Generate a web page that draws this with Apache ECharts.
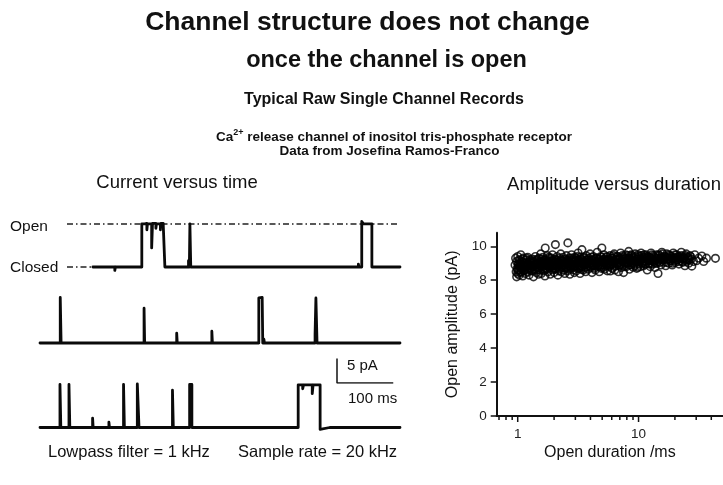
<!DOCTYPE html>
<html><head><meta charset="utf-8">
<script src="https://cdn.jsdelivr.net/npm/echarts@6/dist/echarts.min.js"></script>
<style>html,body{margin:0;padding:0;background:#fff}#c{width:723px;height:485px}</style>
</head><body><div id="c"></div>
<script>
const FONT = '"Liberation Sans", Arial, Helvetica, sans-serif';

// ---- Single-channel records: change points [time (ms), current (pA)] ----
const trace1 = [
[94,0],[120,-0.4],[120.8,0],[133,-0.7],[134,0],[150,0.4],[150.8,0],[168,-0.4],[169,0],
[181,8.8],[186,8.4],[187,8.9],[190,7.6],[191,8.8],[198.5,3.9],[200,8.9],[206,7.9],[207,8.8],[214,7.6],[215,8.9],[219,8.5],[220,8.8],
[222,0],[235,-0.4],[236,0],[248,0.4],[249,0],[264,1.3],[265.5,0],[266.5,8.8],[268,0],
[290,0.4],[291,0],[312,-0.4],[313,0],[340,0.4],[341,0],[365,-0.4],[366,0],[392,0.4],[393,0],[418,-0.4],[419,0],[445,0.4],[446,0],[470,-0.4],[471,0],[497,0.4],[498,0],[523,-0.4],[524,0],[548,0.4],[549,0],[566,0.6],[567,0],
[572,9.3],[575,8.8],[590,0],[605,-0.4],[606,0],[625,0.4],[626,0],[640,0]
];
const trace2 = [
[0,0],[15,-0.4],[16,0],[28,0.4],[29,0],
[36,9.3],[37.5,0],[55,-0.4],[56,0],[75,0.4],[76,0],[98,-0.4],[99,0],[120,0.4],[121,0],[142,-0.4],[143,0],[165,0.4],[166,0],
[185,7.1],[186,0],[205,-0.4],[206,0],[225,0.4],[226,0],[243,2.0],[244,0],[262,-0.4],[263,0],[285,0.4],[286,0],
[305.5,2.4],[306.5,0],[325,-0.4],[326,0],[348,0.4],[349,0],[370,-0.4],[371,0],
[389,9.2],[390.5,9.3],[395,9.2],[396,0],[398,0.8],[399,0],[415,-0.4],[416,0],[440,0.4],[441,0],[465,-0.4],[466,0],
[489,1.8],[490.5,9.2],[492.5,0],[510,-0.4],[511,0],[535,0.4],[536,0],[560,-0.4],[561,0],[585,0.4],[586,0],[610,-0.4],[611,0],[640,0]
];
const trace3 = [
[0,0],[18,-0.4],[19,0],
[35.5,8.8],[37,0],[44,-0.4],[45,0],[51.5,8.8],[53,0],[70,0.4],[71,0],
[93.5,1.9],[94.5,0],[108,-0.4],[109,0],[122.5,1.1],[123.5,0],[135,-0.4],[136,0],
[148.5,8.8],[150,0],[160,0.4],[161,0],[173,8.9],[176,0],[190,-0.4],[191,0],[210,0.4],[211,0],
[235.5,7.6],[237,0],[250,-0.4],[251,0],[266,8.8],[270,0],[285,-0.4],[286,0],[305,0.4],[306,0],[330,-0.4],[331,0],[355,0.4],[356,0],[380,-0.4],[381,0],[405,0.4],[406,0],[430,-0.4],[431,0],[450,0.4],[451,0],
[459,8.7],[467,7.9],[468.5,8.7],[484,6.9],[485.5,8.7],[494,8.3],[495,8.7],[498,-0.4],[499.5,0],[515,0.4],[516,0],[540,-0.4],[541,0],[565,0.4],[566,0],[590,-0.4],[591,0],[615,0.4],[616,0],[640,0]
];
const openLevel = 8.8;       // pA
const closedLevel = 0;       // pA
const refLineStart = 48;     // ms
const row1Start = 94;        // ms
const traceEnd = 640;        // ms
const scaleBarTime = 100;    // ms
const scaleBarAmp = 5;       // pA
const scaleBarAt = 528;      // ms

// ---- Amplitude vs duration: [open duration (ms), open amplitude (pA)] ----
const eventsA = [[0.95,8.9],[0.96,9.3],[0.97,8.5],[0.98,8.2],[0.98,9.1],[0.99,8.7],[1.0,9.4],[1.0,8.4],[1.01,8.9],[1.02,9.2],[1.02,8.6],[1.03,8.3],[1.04,9.0],[1.05,8.8],[1.06,9.5],[1.07,8.5],[1.08,9.1],[1.09,8.7],[1.1,8.25],[1.11,9.3],[1.12,8.9],[1.13,8.6],[1.15,9.0],[1.16,8.4],[1.17,9.2],[1.19,8.8],[1.2,8.5],[1.21,9.35],[1.23,8.95],[1.24,8.3],[1.26,9.1],[1.27,8.7],[1.29,9.0],[1.3,8.55],[1.32,9.25],[1.33,8.8],[1.35,8.2],[1.36,9.05],[1.38,8.65],[1.4,9.4],[1.41,8.9],[1.43,8.45],[1.44,9.15],[1.46,8.75],[1.48,9.0],[1.49,8.35]];
const eventsB = [[1.5,9.3],[1.52,8.6],[1.54,8.95],[1.55,9.55],[1.57,8.4],[1.59,9.1],[1.6,8.8],[1.62,9.35],[1.64,8.55],[1.66,9.0],[1.68,8.25],[1.69,9.9],[1.7,8.7],[1.72,9.2],[1.74,8.9],[1.76,9.45],[1.78,8.5],[1.8,9.05],[1.82,8.75],[1.84,9.3],[1.86,8.35],[1.88,8.95],[1.9,9.15],[1.92,8.6],[1.94,9.5],[1.96,8.85],[1.98,9.0],[2.0,8.45],[2.02,9.25],[2.05,10.1],[2.06,8.7],[2.08,9.1],[2.1,8.9],[2.12,9.4],[2.15,8.3],[2.17,9.0],[2.2,8.65],[2.22,9.3],[2.25,8.8],[2.27,9.55],[2.3,8.5],[2.32,9.15],[2.35,8.95],[2.38,9.35],[2.4,8.6],[2.43,9.05],[2.45,8.4],[2.48,9.2],[2.5,8.75],[2.53,9.45],[2.55,9.0],[2.58,8.55],[2.6,10.2],[2.62,9.1],[2.65,8.85],[2.68,9.3],[2.7,8.35],[2.73,9.0],[2.76,8.7],[2.79,9.5],[2.82,8.9],[2.85,9.2],[2.88,8.6],[2.91,9.05],[2.94,8.45],[2.97,9.35]];
const eventsC = [[3.0,8.8],[3.03,9.15],[3.06,8.55],[3.1,9.4],[3.13,8.95],[3.16,9.6],[3.2,8.7],[3.24,9.1],[3.28,8.4],[3.32,9.25],[3.36,8.85],[3.4,9.8],[3.44,9.0],[3.48,8.6],[3.52,9.35],[3.56,8.9],[3.6,9.15],[3.65,8.5],[3.7,9.45],[3.74,8.8],[3.78,9.05],[3.83,8.65],[3.88,9.3],[3.92,8.95],[3.97,9.55],[4.02,8.75],[4.07,9.2],[4.12,8.45],[4.17,9.0],[4.22,9.4],[4.28,8.85],[4.33,9.1],[4.38,8.6],[4.44,9.3],[4.5,8.95],[4.55,9.65],[4.61,8.8],[4.67,9.15],[4.73,8.5],[4.8,9.05],[4.86,9.4],[4.92,8.7],[4.97,9.9],[5.04,9.2],[5.1,8.9],[5.17,9.5],[5.24,8.65],[5.3,9.1],[5.37,8.85],[5.44,9.35],[5.51,8.55],[5.58,9.0],[5.66,9.25],[5.73,8.8],[5.81,9.45],[5.84,8.54],[5.89,8.95],[5.96,9.15]];
const eventsD = [[6.04,8.7],[6.12,9.3],[6.2,8.95],[6.29,9.55],[6.37,8.6],[6.46,9.1],[6.55,8.85],[6.64,9.4],[6.73,9.0],[6.82,8.5],[6.92,9.25],[7.01,8.9],[7.11,9.6],[7.21,8.75],[7.31,9.15],[7.41,9.35],[7.52,8.45],[7.62,9.05],[7.73,8.95],[7.84,9.5],[7.95,8.8],[8.06,9.2],[8.17,9.0],[8.29,9.7],[8.4,8.65],[8.52,9.3],[8.64,8.9],[8.76,9.45],[8.88,9.1],[9.01,8.76],[9.13,9.35],[9.26,8.95],[9.39,9.55],[9.52,9.05],[9.66,8.7],[9.79,9.25],[9.9,8.76],[10.1,9.4],[10.2,9.1],[10.4,8.8],[10.5,9.6],[10.7,9.0],[10.8,9.3],[11.0,8.85],[11.1,9.5],[11.3,9.15],[11.4,8.95],[11.6,9.4],[11.8,8.6],[11.9,9.2]];
const eventsE = [[12.1,9.0],[12.3,9.35],[12.5,8.8],[12.7,9.6],[12.9,9.15],[13.1,8.95],[13.3,9.45],[13.5,9.1],[13.7,8.75],[13.9,9.3],[14.2,9.0],[14.5,8.4],[14.7,9.5],[15.0,9.2],[15.3,8.9],[15.6,9.65],[15.9,9.3],[16.2,9.05],[16.5,9.4],[16.8,8.85],[17.1,9.55],[17.5,9.2],[17.8,9.0],[18.2,9.45],[18.6,9.15],[19.0,8.9],[19.4,9.6],[19.8,9.3],[20.2,9.05],[20.7,9.5],[21.1,9.2],[21.6,8.95],[22.1,9.4],[22.6,9.65],[23.1,9.1],[23.6,9.35],[24.2,8.85],[24.8,9.55],[25.4,9.2],[26.0,9.0],[26.6,9.45],[27.3,9.25]];
const eventsF = [[27.6,8.83],[28.5,9.1],[29.2,9.5],[30.2,9.15],[31.4,9.3],[33.4,9.43],[34.6,9.1],[36.5,9.3],[43.3,9.29]];
const eventsCore = [[1.01,8.95],[1.07,8.8],[1.14,9.05],[1.22,8.7],[1.28,8.9],[1.37,9.1],[1.45,8.6],[1.53,8.85],[1.61,9.05],[1.7,8.95],[1.79,8.8],[1.87,9.1],[1.97,8.7],[2.07,8.95],[2.18,9.05],[2.28,8.85],[2.39,8.75],[2.51,9.1],[2.63,8.95],[2.77,9.15],[2.9,8.8],[3.05,9.0],[3.19,9.2],[3.34,8.75],[3.5,9.05],[3.67,8.95],[3.85,9.2],[4.04,9.0],[4.25,8.9],[4.47,9.1],[4.7,9.25],[4.94,8.9],[5.2,9.0],[5.47,9.2],[5.75,9.05],[6.05,9.3],[6.36,9.15],[6.69,9.2],[7.04,9.05],[7.4,9.25],[7.79,9.1],[8.2,9.3],[8.62,9.15],[9.07,9.2],[9.55,9.1],[10.05,9.25],[10.6,9.2],[11.15,9.1],[11.7,9.3],[12.35,9.15],[13.0,9.25],[13.7,9.2],[14.4,9.1],[15.2,9.3],[16.0,9.2],[16.9,9.35],[17.8,9.25],[18.8,9.3],[19.8,9.15],[20.9,9.35],[22.0,9.25],[23.2,9.3],[24.5,9.2],[26.0,9.3]];
const eventsDense = [[1.0,8.6],[1.02,8.8],[1.04,9.15],[1.05,8.45],[1.08,8.95],[1.1,9.25],[1.12,8.55],[1.14,8.75],[1.17,8.95],[1.18,9.3],[1.2,8.85],[1.23,8.6],[1.25,9.05],[1.27,9.2],[1.3,8.8],[1.31,9.1],[1.34,8.55],[1.36,8.9],[1.39,9.2],[1.42,8.75],[1.44,8.95],[1.47,9.25],[1.5,8.7],[1.53,9.1],[1.56,8.8],[1.58,9.25],[1.61,8.65],[1.63,8.95],[1.66,9.2],[1.69,8.6],[1.72,8.85],[1.75,9.1],[1.78,8.95],[1.81,9.35],[1.84,8.7],[1.87,8.9],[1.9,9.3],[1.93,8.8],[1.96,9.15],[1.99,8.9],[2.03,8.65],[2.07,9.2],[2.11,8.8],[2.14,9.05],[2.18,8.55],[2.22,8.95],[2.26,9.2],[2.31,8.75],[2.35,9.1],[2.39,8.9],[2.44,9.25],[2.49,8.7],[2.54,8.95],[2.59,9.2],[2.64,8.65],[2.69,9.05],[2.74,8.85],[2.8,9.3],[2.86,8.75],[2.92,9.1],[2.98,8.95],[3.04,9.3],[3.1,8.7],[3.17,9.05],[3.23,8.85],[3.3,9.35],[3.37,8.65],[3.44,9.15],[3.51,8.9],[3.58,9.3],[3.66,8.75],[3.73,9.2],[3.81,8.95],[3.89,9.1],[3.97,8.8],[4.06,9.35],[4.14,8.9],[4.23,9.2],[4.32,8.7],[4.41,9.0],[4.51,9.3],[4.6,8.85],[4.7,9.1],[4.8,8.8],[4.9,9.35],[5.0,9.05],[5.11,8.75],[5.22,9.25],[5.33,8.95],[5.45,9.4],[5.56,8.85],[5.68,9.15],[5.8,8.9],[5.93,9.3],[6.06,8.95],[6.19,9.45],[6.32,8.8],[6.46,9.25],[6.6,9.0],[6.74,9.4],[6.89,8.85],[7.03,9.3],[7.19,8.95],[7.34,9.45],[7.5,9.1],[7.66,8.8],[7.83,9.3],[8.0,9.05],[8.17,9.45],[8.35,8.9],[8.53,9.2],[8.71,9.5],[8.9,9.0],[9.1,9.3],[9.29,8.85],[9.49,9.4],[9.7,9.1],[9.91,9.5],[10.1,8.95],[10.35,9.25],[10.6,9.45],[10.8,9.05],[11.05,9.35],[11.3,8.95],[11.55,9.5],[11.8,9.2],[12.05,9.4],[12.3,8.95],[12.6,9.3],[12.9,9.5],[13.2,9.1],[13.5,9.35],[13.8,9.0],[14.1,9.5],[14.4,9.25],[14.8,9.45],[15.1,9.05],[15.5,9.35],[15.8,9.55],[16.2,9.2],[16.6,9.4],[17.0,9.05],[17.4,9.3],[17.8,9.5],[18.3,9.15],[18.7,9.4],[19.2,9.0],[19.6,9.3],[20.1,9.5],[20.6,9.2],[21.1,9.4],[21.6,9.1],[22.1,9.3],[22.6,9.45],[23.2,9.05],[23.8,9.3],[24.4,9.45],[25.0,9.1],[25.6,9.35],[26.3,9.2],[27.0,9.4]];

const xTickValues = [0.7,0.8,0.9,1,2,3,4,5,6,7,8,9,10,20,30,40];
const xMajorTicks = [1,10];
const yTickValues = [0,2,4,6,8,10];

// ---- build ----
function steps(cp){
  const pts=[];
  for(let i=0;i<cp.length;i++){
    if(i>0) pts.push([cp[i][0], cp[i-1][1]]);
    pts.push([cp[i][0], cp[i][1]]);
  }
  return pts;
}
const allEvents = [].concat(eventsA,eventsB,eventsC,eventsD,eventsE,eventsF,eventsCore,eventsDense);

const chart = echarts.init(document.getElementById('c'), null, {renderer:'canvas'});
const traceGrid = (top)=>({left:40, top:top, width:360, height:56.35, outerBoundsMode:'none', containLabel:false});
const hiddenX = (gi)=>({type:'value', gridIndex:gi, min:0, max:traceEnd, show:false});
const hiddenY = (gi,min,max)=>({type:'value', gridIndex:gi, min:min, max:max, show:false});
const traceLine = (data, gi)=>({type:'line', xAxisIndex:gi, yAxisIndex:gi, data:steps(data), showSymbol:false, symbol:'none',
  lineStyle:{color:'#0a0a0a', width:2.8, join:'round', cap:'round'}, silent:true, animation:false, z:3});
const dashDot = [6,3,1.5,3];
const TXT = '#111';
const txt = (s, x, y, size, opts)=>({type:'text', x:x, y:y, silent:true,
  style:{text:s, font:(opts&&opts.bold?'bold ':'')+size+'px '+FONT, fill:TXT, textAlign:(opts&&opts.align)||'center', textVerticalAlign:'middle'}});

const option = {
  animation:false,
  backgroundColor:'#fff',
  grid:[traceGrid(218), traceGrid(294), traceGrid(378.5),
        {left:40, top:358.5, width:360, height:24.5, outerBoundsMode:'none', containLabel:false},
        {left:496.7, top:232.7, right:0, bottom:69, outerBoundsMode:'none', containLabel:false}],
  xAxis:[hiddenX(0), hiddenX(1), hiddenX(2), hiddenX(3),
    {type:'log', logBase:10, gridIndex:4, min:0.67, max:50,
     axisLine:{show:true, onZero:false, lineStyle:{color:'#111', width:2}},
     axisTick:{show:false}, splitLine:{show:false}, minorTick:{show:false},
     axisLabel:{show:true, margin:11, color:'#222', fontSize:13.5, fontFamily:FONT, showMinLabel:false, showMaxLabel:false,
       formatter:(v)=>{const l=Math.log10(v); return Math.abs(l-Math.round(l))<1e-6 && xMajorTicks.indexOf(Math.round(v))>=0 ? String(Math.round(v)) : '';}},
     name:'Open duration /ms', nameLocation:'middle', nameGap:29,
     nameTextStyle:{fontSize:16, color:'#111', fontFamily:FONT}}],
  yAxis:[hiddenY(0,-1.5,10), hiddenY(1,-1.5,10), hiddenY(2,-1.5,10), hiddenY(3,0,scaleBarAmp),
    {type:'value', gridIndex:4, min:0, max:10.8, interval:2,
     axisLine:{show:true, lineStyle:{color:'#111', width:2}},
     axisTick:{show:true, inside:false, length:6, lineStyle:{color:'#111', width:1.5}, customValues:yTickValues},
     axisLabel:{margin:10, color:'#222', fontSize:13.5, fontFamily:FONT, customValues:yTickValues},
     splitLine:{show:false},
     name:'Open amplitude (pA)', nameLocation:'middle', nameGap:36, nameRotate:90,
     nameTextStyle:{fontSize:16, color:'#111', fontFamily:FONT}}],
  series:[
    {type:'line', xAxisIndex:0, yAxisIndex:0, data:[[refLineStart,openLevel],[traceEnd,openLevel]], showSymbol:false, symbol:'none',
      lineStyle:{color:'#222', width:1.5, type:dashDot}, silent:true, z:2},
    {type:'line', xAxisIndex:0, yAxisIndex:0, data:[[refLineStart,closedLevel],[row1Start,closedLevel]], showSymbol:false, symbol:'none',
      lineStyle:{color:'#222', width:1.5, type:dashDot}, silent:true, z:2},
    traceLine(trace1,0), traceLine(trace2,1), traceLine(trace3,2),
    {type:'line', xAxisIndex:3, yAxisIndex:3, data:[[scaleBarAt,scaleBarAmp],[scaleBarAt,0],[scaleBarAt+scaleBarTime,0]],
      showSymbol:false, symbol:'none', lineStyle:{color:'#111', width:1.5}, silent:true},
    {type:'scatter', xAxisIndex:4, yAxisIndex:4, data:allEvents, symbol:'circle', symbolSize:7.5,
      itemStyle:{color:'rgba(255,255,255,0)', borderColor:'#000', borderWidth:1.6}, silent:true, large:false},
    {type:'custom', xAxisIndex:4, yAxisIndex:4, clip:false, silent:true,
      data:xTickValues.map(v=>[v,0]),
      renderItem:(params, api)=>{
        const v = api.value(0);
        const p = api.coord([v, 0]);
        const major = xMajorTicks.indexOf(v)>=0;
        return {type:'line', shape:{x1:p[0], y1:p[1]-(major?1:0), x2:p[0], y2:p[1]+(major?6:4)}, style:{stroke:'#111', lineWidth:1.5}};
      }}
  ],
  graphic:[
    txt('Channel structure does not change', 367.5, 22.5, 26.5, {bold:true}),
    txt('once the channel is open', 386.5, 61, 23.5, {bold:true}),
    txt('Typical Raw Single Channel Records', 384, 99.5, 16, {bold:true}),
    {type:'text', x:394, y:136, silent:true, style:{
      text:'{b|Ca}{s|2+}{b| release channel of inositol tris-phosphate receptor}',
      textAlign:'center', textVerticalAlign:'middle',
      rich:{b:{font:'bold 13.5px '+FONT, fill:TXT, color:TXT, lineHeight:16, verticalAlign:'bottom'},
            s:{font:'bold 9px '+FONT, fill:TXT, color:TXT, lineHeight:16, verticalAlign:'top'}}}},
    txt('Data from Josefina Ramos-Franco', 389.5, 151.5, 13.5, {bold:true}),
    txt('Current versus time', 177, 183, 18.5),
    txt('Amplitude versus duration', 614, 185, 18.5),
    txt('Open', 10, 226.5, 15.5, {align:'left'}),
    txt('Closed', 10, 268, 15.5, {align:'left'}),
    txt('5 pA', 347, 366, 15, {align:'left'}),
    txt('100 ms', 348, 399, 15, {align:'left'}),
    txt('Lowpass filter = 1 kHz', 48, 452, 16.5, {align:'left'}),
    txt('Sample rate = 20 kHz', 238, 452, 16.5, {align:'left'})
  ]
};
chart.setOption(option);
</script></body></html>
